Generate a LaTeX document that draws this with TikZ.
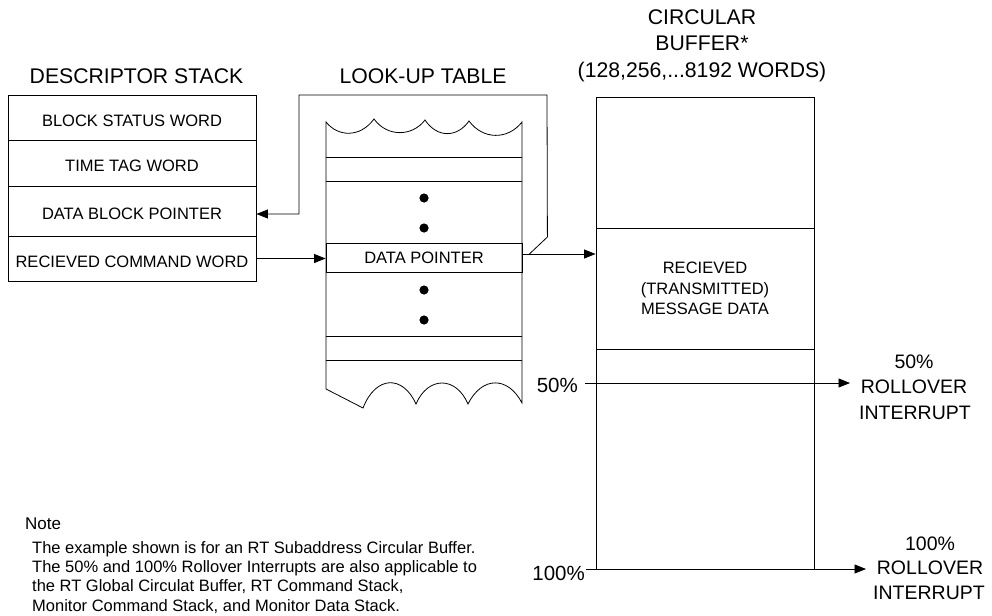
\documentclass[tikz,border=0pt]{standalone}
\usepackage{fontspec}
\setmainfont{Liberation Sans}
\usetikzlibrary{arrows.meta,calc}
\newcommand\ttlfnt{\fontsize{21.2}{25}\selectfont}
\newcommand\rowfnt{\fontsize{16.5}{20.5}\selectfont}
\newcommand\lblfnt{\fontsize{19.5}{25}\selectfont}
\newcommand\pctfnt{\fontsize{20.5}{25}\selectfont}
\newcommand\notefnt{\fontsize{16.5}{19.4}\selectfont}
\tikzset{
  ln/.style={line width=0.8pt, line join=miter},
  arr/.style={ln, -{Triangle[length=11.5pt,width=9pt]}},
  rowbox/.style={draw, ln, minimum width=248pt, inner sep=0pt, font=\rowfnt, text height=17pt, text depth=0pt},
  ttl/.style={anchor=base, font=\ttlfnt, inner sep=0pt},
  lbl/.style={anchor=base, font=\lblfnt, inner sep=0pt},
  pct/.style={anchor=base east, font=\pctfnt, inner sep=0pt},
  notetxt/.style={anchor=base west, font=\notefnt, inner sep=0pt},
  dotmark/.style={fill=black}
}
\begin{document}
\begin{tikzpicture}[x=1pt,y=-1pt]
\useasboundingbox (0,0) rectangle (992,615);

% titles
\node[ttl] (tds) at (136.5,84) {DESCRIPTOR STACK};
\node[ttl] (tlut) at (423,84) {LOOK-UP TABLE};
\node[ttl] (tcb1) at (702,25) {CIRCULAR};
\node[ttl] (tcb2) at (702,50.5) {BUFFER*};
\node[ttl] (tcb3) at (702,77.3) {(128,256,...8192 WORDS)};

% descriptor stack
\node[rowbox, minimum height=45pt] (bsw) at (132,117.5) {BLOCK STATUS WORD};
\node[rowbox, minimum height=46pt] (ttw) at (132,163) {TIME TAG WORD};
\node[rowbox, minimum height=50pt] (dbp) at (132,211) {DATA BLOCK POINTER};
\node[rowbox, minimum height=45pt] (rcw) at (132,258.5) {RECIEVED COMMAND WORD};

% look-up table outline
\draw[ln] (326,389) -- (326,122)
  .. controls (338,137) and (360,138) .. (374,119)
  .. controls (387,137) and (412,137) .. (425,120)
  .. controls (437,138) and (457,138) .. (469,121)
  .. controls (483,140) and (508,140) .. (522,122)
  -- (522,403)
  .. controls (508,376) and (482,376) .. (468,404)
  .. controls (456,376) and (428,376) .. (416,404)
  .. controls (403,375) and (376,375) .. (363,408)
  -- cycle;
\foreach \yy in {157,181,336,360} \draw[ln] (326,\yy) -- (522,\yy);
\node[draw, ln, minimum width=196pt, minimum height=29pt, inner sep=0pt, font=\rowfnt, text height=12.5pt, text depth=0pt] (dp) at (424,257.5) {DATA POINTER};
\foreach \yy in {198,228,290,320} \fill[dotmark] (424,\yy) circle (4.6pt);

% circular buffer
\node[draw, ln, minimum width=218pt, minimum height=472pt, inner sep=0pt] (cb) at (705,333) {};
\node[draw, ln, minimum width=218pt, minimum height=121pt, inner sep=0pt, align=center, font=\rowfnt] (msg) at (705,288.5) {RECIEVED\\(TRANSMITTED)\\MESSAGE DATA};
\draw[line width=1.7pt] (cb.south west) -- (cb.south east);

% connectors
\draw[arr] (rcw.east) -- (rcw.east -| dp.west);
\coordinate (dpout) at ([yshift=3.5pt]dp.east);
\draw[arr] (dpout) -- (dpout -| msg.west);
\coordinate (fb) at ([xshift=7pt,yshift=3.5pt]dp.east);
\draw[arr] (fb) -- ++(18,-17) -- (547,95) -- (299,95) |- ([yshift=-3pt]dbp.east);

% percent markers
\node[pct] (p50) at (578,392.5) {50\%};
\node[pct] (p100) at (585,580) {100\%};
\coordinate (m50) at (585,383);
\coordinate (r50) at (850,383);
\coordinate (m100) at (586,569);
\coordinate (r100) at (866,569);
\draw[arr] (m50) -- (r50);
\draw[arr] (m100) -- (r100);

\node[lbl] (a1) at (914,368) {50\%};
\node[lbl] (a2) at (914,393) {ROLLOVER};
\node[lbl] (a3) at (915,419) {INTERRUPT};
\node[lbl] (b1) at (930,550) {100\%};
\node[lbl] (b2) at (930,574.5) {ROLLOVER};
\node[lbl] (b3) at (929,599.3) {INTERRUPT};

% note
\node[anchor=base west, font=\fontsize{17}{20}\selectfont, inner sep=0pt] (note) at (25,529) {Note};
\node[notetxt] (n1) at (32,553) {The example shown is for an RT Subaddress Circular Buffer.};
\node[notetxt] (n2) at (32,572.3) {The 50\% and 100\% Rollover Interrupts are also applicable to};
\node[notetxt] (n3) at (32,591.7) {the RT Global Circulat Buffer, RT Command Stack,};
\node[notetxt] (n4) at (32,611) {Monitor Command Stack, and Monitor Data Stack.};
\end{tikzpicture}
\end{document}
